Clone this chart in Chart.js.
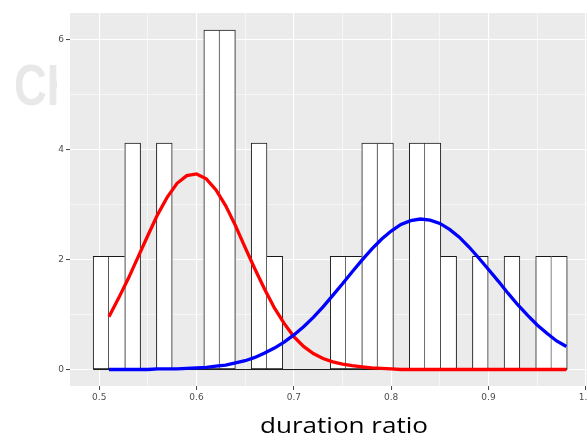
<!DOCTYPE html>
<html>
<head>
<meta charset="utf-8">
<script src="https://cdn.jsdelivr.net/npm/chart.js@4.4.1/dist/chart.umd.min.js"></script>
<style>
  html, body { margin: 0; padding: 0; background: #fff; }
</style>
</head>
<body>
<canvas id="chart" width="587" height="439"></canvas>
<script>
// histogram: 30 bins, centre of each bin and its (density) height
const binCenters = [0.5019, 0.5181, 0.5344, 0.5506, 0.5669, 0.5831, 0.5993, 0.6156, 0.6318, 0.6480,
                    0.6643, 0.6805, 0.6968, 0.7130, 0.7292, 0.7455, 0.7617, 0.7779, 0.7942, 0.8104,
                    0.8267, 0.8429, 0.8591, 0.8754, 0.8916, 0.9079, 0.9241, 0.9403, 0.9566, 0.9728];
const binHeights = [2.06, 2.06, 4.12, 0, 4.12, 0, 0, 6.18, 6.18, 0,
                    4.12, 2.06, 0, 0, 0, 2.06, 2.06, 4.12, 4.12, 0,
                    4.12, 4.12, 2.06, 0, 2.06, 0, 2.06, 0, 2.06, 2.06];
const baselineX = [0.4938, 0.9809];

// fitted density curves
const curveX = [0.51, 0.52, 0.53, 0.54, 0.55, 0.56, 0.57, 0.58, 0.59, 0.60,
                0.61, 0.62, 0.63, 0.64, 0.65, 0.66, 0.67, 0.68, 0.69, 0.70,
                0.71, 0.72, 0.73, 0.74, 0.75, 0.76, 0.77, 0.78, 0.79, 0.80,
                0.81, 0.82, 0.83, 0.84, 0.85, 0.86, 0.87, 0.88, 0.89, 0.90,
                0.91, 0.92, 0.93, 0.94, 0.95, 0.96, 0.97, 0.98];
const redY = [0.96, 1.30, 1.66, 2.05, 2.44, 2.82, 3.14, 3.39, 3.53, 3.56,
              3.47, 3.27, 2.98, 2.62, 2.22, 1.83, 1.46, 1.12, 0.84, 0.60,
              0.42, 0.29, 0.20, 0.14, 0.10, 0.07, 0.05, 0.03, 0.02, 0.01,
              0, 0, 0, 0, 0, 0, 0, 0, 0, 0,
              0, 0, 0, 0, 0, 0, 0, 0];
const blueY = [0, 0, 0, 0, 0, 0.01, 0.01, 0.01, 0.02, 0.03,
               0.04, 0.06, 0.08, 0.12, 0.16, 0.22, 0.30, 0.39, 0.50, 0.63,
               0.78, 0.95, 1.14, 1.35, 1.56, 1.78, 1.99, 2.19, 2.37, 2.52,
               2.64, 2.71, 2.74, 2.72, 2.66, 2.55, 2.41, 2.23, 2.03, 1.82,
               1.61, 1.39, 1.18, 0.99, 0.81, 0.66, 0.52, 0.42];

const xMajorTicks = [0.5, 0.6, 0.7, 0.8, 0.9, 1.0];
const xMinorTicks = [0.55, 0.65, 0.75, 0.85, 0.95];
const yMajorTicks = [0, 2, 4, 6];
const yMinorTicks = [1, 3, 5];
const xTitle = 'duration ratio';

function buildTicks(major, minor) {
    return major.map(v => ({ value: v, minor: false }))
        .concat(minor.map(v => ({ value: v, minor: true })))
        .sort((a, b) => a.value - b.value);
}

const tickFont = { family: 'DejaVu Sans', size: 9 };

const gridOptions = {
    offset: false,
    color: '#ffffff',
    lineWidth: (c) => (c.tick && c.tick.minor ? 0.55 : 1.1),
    tickColor: (c) => (c.tick && c.tick.minor ? 'rgba(0,0,0,0)' : '#444444'),
    tickLength: 4,
    tickWidth: 1,
};

const panelPlugin = {
    id: 'panel',
    beforeDraw(chart) {
        const { ctx, chartArea } = chart;
        ctx.save();
        // faint watermark left of the panel
        ctx.beginPath();
        ctx.rect(0, 0, 57, chart.height);
        ctx.clip();
        ctx.fillStyle = '#e8e8e8';
        ctx.font = 'bold 58px "Liberation Sans"';
        ctx.textBaseline = 'alphabetic';
        ctx.translate(14, 105);
        ctx.scale(0.78, 1);
        ctx.fillText('CH', 0, 0);
        ctx.restore();

        ctx.save();
        ctx.fillStyle = '#ebebeb';
        ctx.fillRect(chartArea.left, chartArea.top, chartArea.right - chartArea.left, chartArea.bottom - chartArea.top);
        ctx.restore();
    },
    afterDraw(chart) {
        const { ctx, chartArea } = chart;
        ctx.save();
        ctx.font = '21px "Open Sans"';
        ctx.fillStyle = '#000';
        ctx.textAlign = 'center';
        ctx.textBaseline = 'alphabetic';
        const w = ctx.measureText(xTitle).width;
        ctx.translate(chartArea.left + 274, chartArea.bottom + 46.5);
        ctx.scale(168 / w, 1);
        ctx.fillText(xTitle, 0, 0);
        ctx.restore();
    },
};

function barBorder(ctx) {
    const i = ctx.dataIndex;
    const h = binHeights[i];
    if (!h) return 0;
    const prev = i > 0 ? binHeights[i - 1] : 0;
    const next = i < binHeights.length - 1 ? binHeights[i + 1] : 0;
    return { top: 1, bottom: 1, left: prev < h ? 1 : 0, right: next > h ? 0 : 1 };
}

new Chart(document.getElementById('chart').getContext('2d'), {
    type: 'bar',
    data: {
        datasets: [
            {
                type: 'line',
                data: curveX.map((x, i) => ({ x, y: blueY[i] })),
                borderColor: '#0000ff',
                borderWidth: 3.3,
                pointRadius: 0,
                tension: 0,
                order: 0,
            },
            {
                type: 'line',
                data: curveX.map((x, i) => ({ x, y: redY[i] })),
                borderColor: '#ff0000',
                borderWidth: 3.3,
                pointRadius: 0,
                tension: 0,
                order: 1,
            },
            {
                type: 'line',
                data: baselineX.map(x => ({ x, y: 0 })),
                borderColor: '#1a1a1a',
                borderWidth: 1,
                pointRadius: 0,
                order: 2,
            },
            {
                type: 'bar',
                data: binCenters.map((x, i) => ({ x, y: binHeights[i] })),
                backgroundColor: '#ffffff',
                borderColor: '#1a1a1a',
                borderWidth: barBorder,
                borderSkipped: false,
                barPercentage: 1,
                categoryPercentage: 1,
                order: 3,
            },
        ],
    },
    options: {
        responsive: false,
        animation: false,
        layout: { padding: { top: 13, left: 0, right: 0, bottom: 0 } },
        plugins: {
            legend: { display: false },
            tooltip: { enabled: false },
        },
        scales: {
            x: {
                type: 'linear',
                offset: false,
                min: 0.47,
                max: 1.0012,
                afterBuildTicks(scale) {
                    scale.ticks = buildTicks(xMajorTicks, xMinorTicks);
                },
                afterFit(scale) {
                    scale.height = 53;
                    scale.paddingLeft = 0;
                    scale.paddingRight = 0;
                },
                border: { display: false },
                grid: gridOptions,
                ticks: {
                    autoSkip: false,
                    maxRotation: 0,
                    padding: 2,
                    font: tickFont,
                    color: '#4d4d4d',
                    callback: (value, index, ticks) => (ticks[index].minor ? '' : value.toFixed(1)),
                },
            },
            y: {
                min: -0.3,
                max: 6.49,
                afterBuildTicks(scale) {
                    scale.ticks = buildTicks(yMajorTicks, yMinorTicks);
                },
                afterFit(scale) {
                    scale.width = 70;
                    scale.paddingTop = 0;
                    scale.paddingBottom = 0;
                },
                border: { display: false },
                grid: gridOptions,
                ticks: {
                    autoSkip: false,
                    padding: 2,
                    font: tickFont,
                    color: '#4d4d4d',
                    callback: (value, index, ticks) => (ticks[index].minor ? '' : String(value)),
                },
            },
        },
    },
    plugins: [panelPlugin],
});
</script>
</body>
</html>
